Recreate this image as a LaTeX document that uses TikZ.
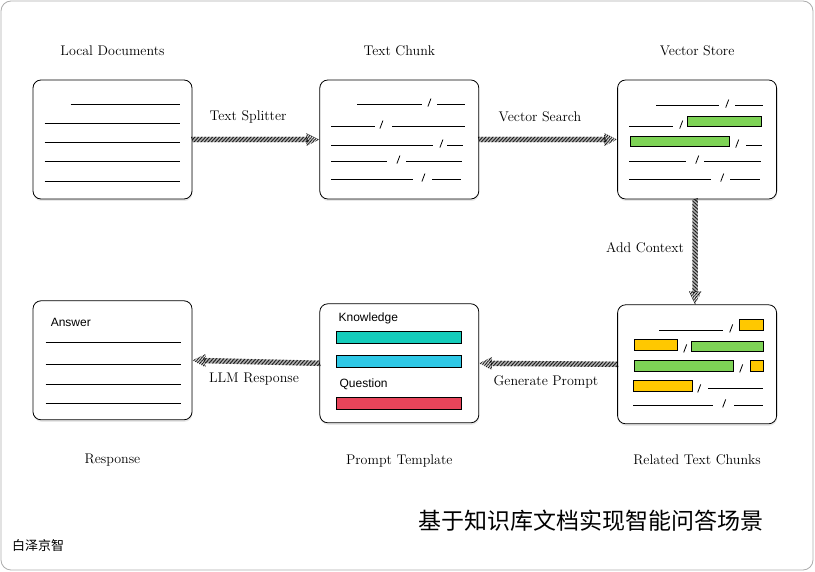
\documentclass[tikz,border=0pt]{standalone}
\usepackage{fontspec}
\usepackage{tikz}
\usetikzlibrary{positioning, decorations.markings, patterns.meta, shadows}
\newfontfamily\sansfont{Liberation Sans}
\newfontfamily\cjkfont{Noto Sans CJK SC}
\definecolor{vgreen}{HTML}{7ED356}
\definecolor{vyellow}{HTML}{FFC800}
\definecolor{kteal}{HTML}{14CCBB}
\definecolor{kcyan}{HTML}{2EC8E6}
\definecolor{qred}{HTML}{E8445A}
\tikzset{
  docbox/.style   ={rectangle, rounded corners=8pt, draw=black, fill=white, line width=0.8pt,
                    minimum width=159pt, minimum height=119pt, inner sep=0pt,
                    drop shadow={opacity=0.18, shadow xshift=0.5pt, shadow yshift=-2pt}},
  boxlabel/.style ={font=\fontsize{14}{16}\selectfont, inner sep=0pt},
  flowlabel/.style={font=\fontsize{14}{16}\selectfont, inner sep=0pt},
  intext/.style   ={font=\sansfont\fontsize{12}{14}\selectfont, inner sep=0pt, anchor=west},
  thickln/.style  ={line width=1.6pt},
  thinln/.style   ={line width=0.8pt},
  barbox/.style   ={draw=black, line width=0.8pt},
  hatch/.style    ={decoration={markings,
                      mark=between positions 0 and -12pt step 1.4pt with
                        {\draw[line width=0.6pt] (-1pt,2.7pt) -- (1pt,-2.7pt);},
                      mark=at position 1 with
                        {\fill[pattern={Lines[angle=-65,distance=1.4pt,line width=0.6pt]}]
                          (0pt,0pt) -- (-13pt,6.5pt) -- (-13pt,-6.5pt) -- cycle;}},
                    postaction={decorate}},
}
\newcommand{\slashmk}[2]{\draw[thinln] (#1-1.5,#2+2) -- (#1+1.5,#2-6);}
\begin{document}
\begin{tikzpicture}[x=1pt, y=-1pt]
  \useasboundingbox (0,0) rectangle (815,572);
  \draw[gray!65, line width=0.8pt, rounded corners=10pt] (1,1) rectangle (813,570);

  % top row
  \node[docbox] (docs) at (112.5,139.5) {};
  \node[docbox, right=127pt of docs] (chunk) {};
  \node[docbox, right=138pt of chunk] (store) {};
  % bottom row
  \node[docbox, below=101pt of docs] (answer) {};
  \node[docbox, below=104pt of chunk] (prompt) {};
  \node[docbox, below=105pt of store] (related) {};

  \node[boxlabel, above=24pt of docs] (docslbl) {Local Documents};
  \node[boxlabel, above=24pt of chunk] (chunklbl) {Text Chunk};
  \node[boxlabel, above=24pt of store] (storelbl) {Vector Store};
  \node[boxlabel, below=34pt of answer] (answerlbl) {Response};
  \node[boxlabel, below=31pt of prompt] (promptlbl) {Prompt Template};
  \node[boxlabel, below=30pt of related] (relatedlbl) {Related Text Chunks};

  % local documents
  \begin{scope}[shift={(docs.north west)}]
    \draw[thickln] (38,25) -- (147,25);
    \foreach \yy/\st in {44/thinln, 63/thickln, 82/thinln, 102/thickln}
      \draw[\st] (12,\yy) -- (147,\yy);
  \end{scope}

  % text chunk
  \begin{scope}[shift={(chunk.north west)}]
    \draw[thickln] (38,25) -- (103,25);  \slashmk{110}{25} \draw[thickln] (118,25) -- (146,25);
    \draw[thinln] (12,47) -- (56,47);    \slashmk{62}{47}  \draw[thinln] (73,47) -- (146,47);
    \draw[thickln] (12,66) -- (114,66);  \slashmk{122}{66} \draw[thickln] (128,66) -- (144,66);
    \draw[thinln] (12,82) -- (68,82);    \slashmk{79}{82}  \draw[thickln] (87,82) -- (143,82);
    \draw[thickln] (12,100) -- (94,100); \slashmk{104}{100} \draw[thickln] (113,100) -- (142,100);
  \end{scope}

  % vector store
  \begin{scope}[shift={(store.north west)}]
    \draw[thickln] (39,26) -- (102,26);  \slashmk{110}{26} \draw[thickln] (118,26) -- (146,26);
    \draw[thinln] (12,47) -- (56,47);    \slashmk{64}{47}
    \draw[barbox, fill=vgreen] (70,37) rectangle (144,47);
    \draw[barbox, fill=vgreen] (13,57) rectangle (112,67);
    \slashmk{120}{66} \draw[thickln] (129,66) -- (145,66);
    \draw[thinln] (12,82) -- (69,82);    \slashmk{80}{82}  \draw[thickln] (87,82) -- (144,82);
    \draw[thickln] (12,100) -- (94,100); \slashmk{105}{100} \draw[thickln] (113,100) -- (143,100);
  \end{scope}

  % related text chunks
  \begin{scope}[shift={(related.north west)}]
    \draw[thinln] (42,26) -- (106,26);   \slashmk{114}{26}
    \draw[barbox, fill=vyellow] (122,15) rectangle (146,26);
    \draw[barbox, fill=vyellow] (17,35) rectangle (60,46);
    \slashmk{68}{46}
    \draw[barbox, fill=vgreen] (74,37) rectangle (146,47);
    \draw[barbox, fill=vgreen] (17,56) rectangle (116,67);
    \slashmk{124}{66}
    \draw[barbox, fill=vyellow] (133,56) rectangle (146,67);
    \draw[barbox, fill=vyellow] (16,76) rectangle (75,87);
    \slashmk{82}{86} \draw[thinln] (91,84) -- (146,84);
    \draw[thinln] (16,101) -- (96,101);  \slashmk{107}{101} \draw[thinln] (117,101) -- (146,101);
  \end{scope}

  % prompt template
  \begin{scope}[shift={(prompt.north west)}]
    \node[intext] (knowtxt) at (19,15) {Knowledge};
    \draw[barbox, fill=kteal] (17,28) rectangle (142,40);
    \draw[barbox, fill=kcyan] (17,52) rectangle (142,64);
    \node[intext] (questxt) at (20,81) {Question};
    \draw[barbox, fill=qred] (17,94) rectangle (142,106);
  \end{scope}

  % response
  \begin{scope}[shift={(answer.north west)}]
    \node[intext] (anstxt) at (18,22) {Answer};
    \foreach \yy/\st in {42/thickln, 64/thinln, 84/thickln, 103/thinln}
      \draw[\st] (13,\yy) -- (148,\yy);
  \end{scope}

  % flows
  \path[hatch] (docs.east) -- (chunk.west);
  \path[hatch] (chunk.east) -- (store.west);
  \path[hatch] ([xshift=-2pt]store.south) -- ([xshift=-2pt]related.north);
  \path[hatch] (related.west) -- (prompt.east);
  \path[hatch] (prompt.west) -- (answer.east);

  \node[flowlabel] (splitlbl) at (248,117) {Text Splitter};
  \node[flowlabel] (searchlbl) at (540,117) {Vector Search};
  \node[flowlabel] (ctxlbl) at (645,248) {Add Context};
  \node[flowlabel] (genlbl) at (546,382) {Generate Prompt};
  \node[flowlabel] (llmlbl) at (254,379) {LLM Response};

  \node[font=\cjkfont\fontsize{23}{26}\selectfont, inner sep=0pt] (title) at (591,521) {基于知识库文档实现智能问答场景};
  \node[font=\cjkfont\fontsize{13}{15}\selectfont, inner sep=0pt, anchor=west] (brand) at (12,546) {白泽京智};
\end{tikzpicture}
\end{document}
